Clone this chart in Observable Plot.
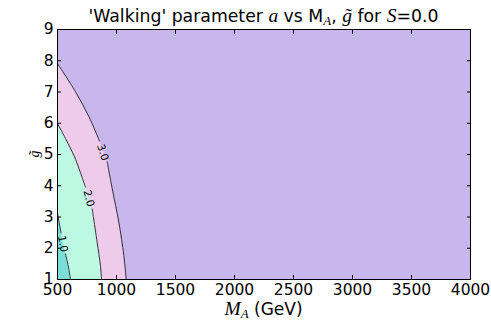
<!DOCTYPE html>
<html><head><meta charset="utf-8">
<script src="https://cdn.jsdelivr.net/npm/d3@7"></script>
<script src="https://cdn.jsdelivr.net/npm/@observablehq/plot@0.6"></script>
<style>
html,body{margin:0;padding:0;background:#fff;}
svg{display:block;}
</style>
</head><body><div id="chart"></div>
<script>
// Axis ticks
const xTicks = [500, 1000, 1500, 2000, 2500, 3000, 3500, 4000];
const yTicks = [1, 2, 3, 4, 5, 6, 7, 8, 9];

// Contour lines (M_A in GeV, g~), split at the inline label gap
const contour1Upper = [{M: 500, g: 3.10}, {M: 530, g: 2.49}];
const contour1Lower = [{M: 568, g: 1.82}, {M: 596, g: 1.34}, {M: 610, g: 1.0}];
const contour2Upper = [{M: 500, g: 5.99}, {M: 568, g: 5.51}, {M: 648, g: 4.89}, {M: 737, g: 3.95}];
const contour2Lower = [{M: 794, g: 3.26}, {M: 836, g: 2.19}, {M: 864, g: 1.45}, {M: 873, g: 1.0}];
const contour3Upper = [{M: 500, g: 7.91}, {M: 652, g: 7.01}, {M: 765, g: 6.22}, {M: 856, g: 5.43}];
const contour3Lower = [{M: 921, g: 4.76}, {M: 964, g: 3.90}, {M: 1020, g: 2.83}, {M: 1062, g: 1.77}, {M: 1082, g: 1.0}];

// Contour labels
const labels = [
  {level: 1.0, M: 545, g: 2.14},
  {level: 2.0, M: 765, g: 3.60},
  {level: 3.0, M: 884, g: 5.07}
];

// styles
const colors = {below1: "#7addda", c12: "#bdf8e3", c23: "#eecbea", above3: "#c8b7ec"};
const labelRotate = {1: 80, 2: 76, 3: 72};

const c1 = contour1Upper.concat(contour1Lower);
const c2 = contour2Upper.concat(contour2Lower);
const c3 = contour3Upper.concat(contour3Lower);
const lineOpts = {x: "M", y: "g", stroke: "#222", strokeWidth: 0.9, curve: "catmull-rom"};
const areaOpts = {y: "g", x1: 500, x2: "M", curve: "catmull-rom"};

const plot = Plot.plot({
  width: 491, height: 327,
  marginLeft: 57, marginRight: 21, marginTop: 29, marginBottom: 48,
  x: {domain: [500, 4000]},
  y: {domain: [1, 9]},
  style: "font-family: 'DejaVu Sans'; font-size: 15px; background: white; color: black;",
  marks: [
    Plot.frame({fill: colors.above3}),
    Plot.areaX(c3, {...areaOpts, fill: colors.c23}),
    Plot.areaX(c2, {...areaOpts, fill: colors.c12}),
    Plot.areaX(c1, {...areaOpts, fill: colors.below1}),
    Plot.line(contour3Upper, lineOpts),
    Plot.line(contour3Lower, lineOpts),
    Plot.line(contour2Upper, lineOpts),
    Plot.line(contour2Lower, lineOpts),
    Plot.line(contour1Upper, lineOpts),
    Plot.line(contour1Lower, lineOpts),
    Plot.text(labels, {x: "M", y: "g", text: d => d.level.toFixed(1), rotate: d => labelRotate[d.level], fontSize: 10.5, fill: "black", className: "clabel"}),
    Plot.axisX({anchor: "bottom", ticks: xTicks, tickSize: -4, tickFormat: () => "", label: null}),
    Plot.axisX({anchor: "top", ticks: xTicks, tickSize: -4, tickFormat: () => "", label: null}),
    Plot.axisY({anchor: "left", ticks: yTicks, tickSize: -4, tickFormat: () => "", label: null}),
    Plot.axisY({anchor: "right", ticks: yTicks, tickSize: -4, tickFormat: () => "", label: null}),
    Plot.axisX({anchor: "bottom", ticks: xTicks, tickSize: 0, tickPadding: 4, tickFormat: d => String(d), label: null, className: "ticklab"}),
    Plot.axisY({anchor: "left", ticks: yTicks, tickSize: 0, tickPadding: 4, tickFormat: d => String(d), label: null, className: "ticklab"}),
    Plot.frame({stroke: "black", strokeWidth: 1})
  ]
});
document.getElementById("chart").appendChild(plot);

const svg = d3.select(plot);
svg.selectAll(".ticklab text").style("font-size", "15.5px").style("font-family", "'DejaVu Sans'");
svg.selectAll(".clabel text").style("font-size", "10.5px").style("font-family", "'DejaVu Sans'");
const serif = "'Liberation Serif', 'DejaVu Serif', serif";
function sp(sel, txt, o = {}) {
  const s = sel.append("tspan").text(txt).style("font-size", (o.size || 17.3) + "px");
  if (o.serif) s.style("font-family", serif).style("font-style", "italic");
  else s.style("font-family", "'DejaVu Sans'");
  if (o.dy) s.attr("dy", o.dy);
  return s;
}
// Title
const t = svg.append("text").attr("x", 263.5).attr("y", 22).attr("text-anchor", "middle")
  .style("font-family", "'DejaVu Sans'").style("font-size", "17.3px").attr("fill", "black");
sp(t, "'Walking' parameter ");
sp(t, "a", {serif: true, size: 19.5});
sp(t, " vs M");
sp(t, "A", {serif: true, size: 13, dy: 3});
sp(t, ", ", {dy: -3});
sp(t, "g\u0303", {serif: true, size: 19.5});
sp(t, " for ");
sp(t, "S", {serif: true, size: 19.5});
sp(t, "=0.0");

// X label
const xl = svg.append("text").attr("x", 263.5).attr("y", 315).attr("text-anchor", "middle")
  .style("font-family", "'DejaVu Sans'").style("font-size", "17px").attr("fill", "black");
sp(xl, "M", {serif: true, size: 19.5});
sp(xl, "A", {serif: true, size: 13, dy: 3});
sp(xl, " (GeV)", {dy: -3, size: 17});

// Y label
svg.append("text").attr("transform", "translate(38.5,154) rotate(-90)").attr("text-anchor", "middle")
  .style("font-family", serif).style("font-style", "italic").style("font-size", "14px").attr("fill", "black")
  .text("g\u0303");
</script>
</body></html>
